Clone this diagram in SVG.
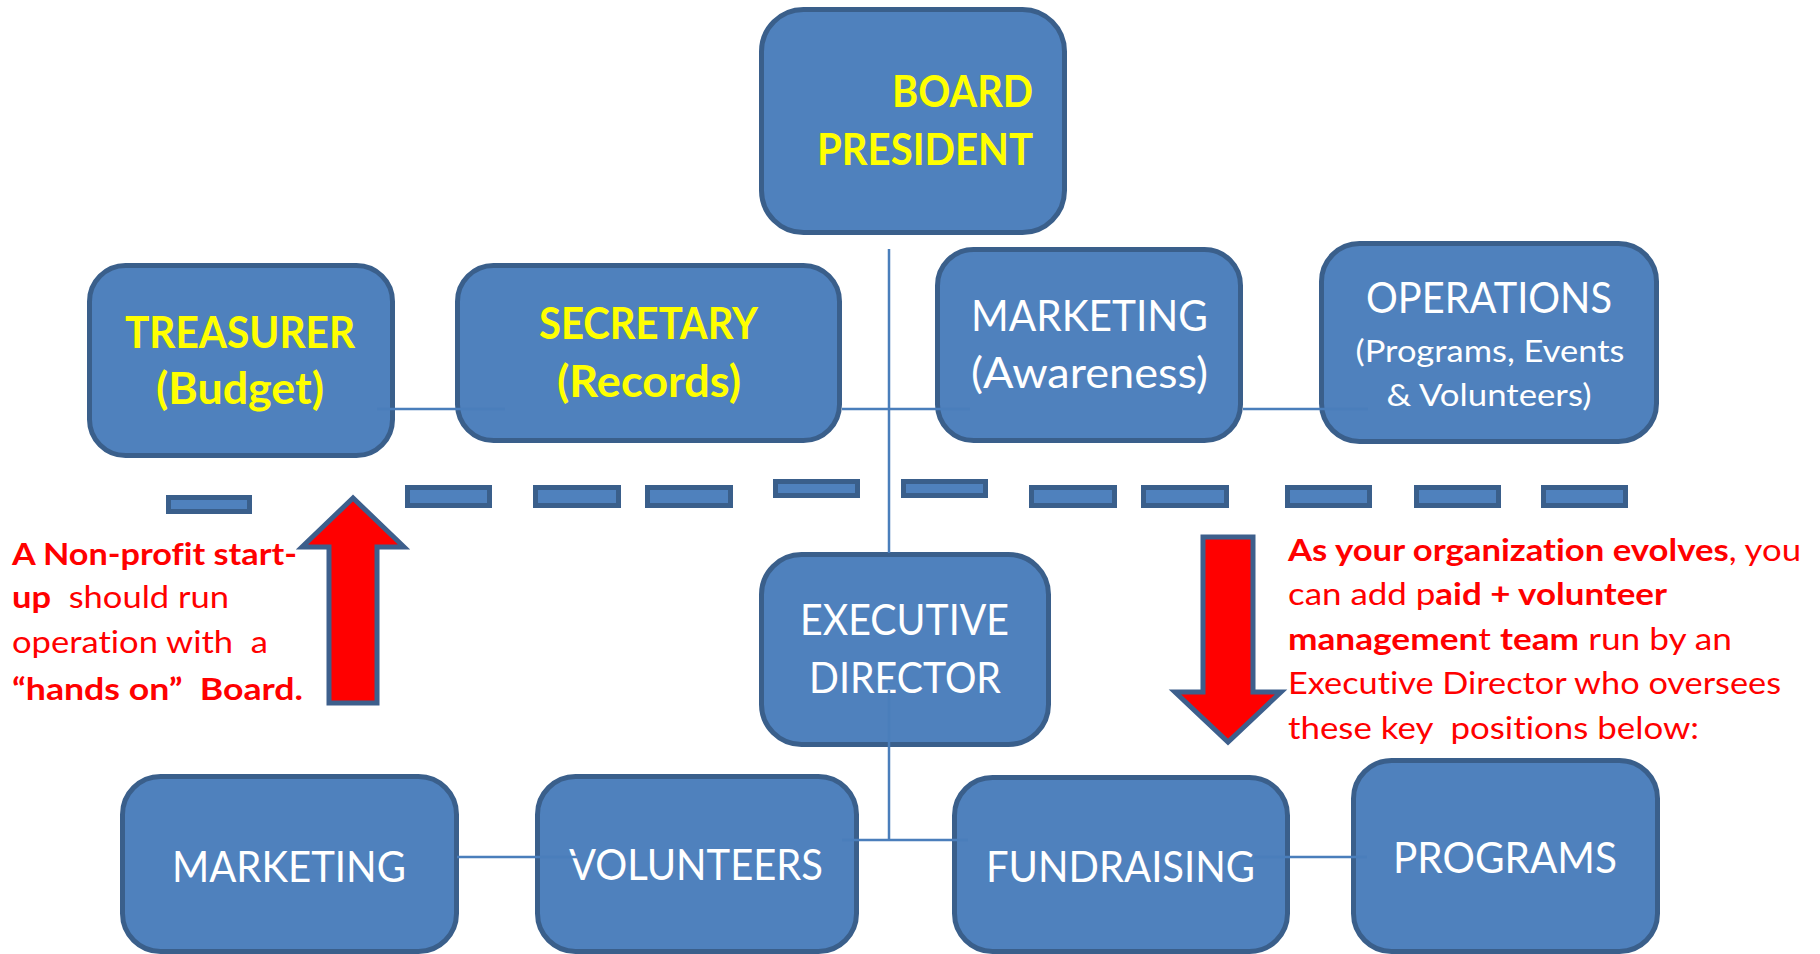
<svg xmlns="http://www.w3.org/2000/svg" width="1820" height="954" viewBox="0 0 1820 954">
<style>
text{font-variant-ligatures:none;font-feature-settings:"liga" 0,"clig" 0}
.box{fill:#4f81bd;stroke:#3a5f8b;stroke-width:5}
.dash{fill:#4f81bd;stroke:#3a5f8b;stroke-width:5}
.arrow{fill:#ff0000;stroke:#3d5f8c;stroke-width:5;stroke-linejoin:miter}
.con{stroke:#4a7ebb;stroke-width:2.5;fill:none}
.y{font-family:Lato,"Liberation Sans",sans-serif;font-weight:bold;fill:#ffff00;font-size:44px}
.w{font-family:Lato,"Liberation Sans",sans-serif;fill:#ffffff;font-size:42px}
.ws{font-family:Lato,"Liberation Sans",sans-serif;fill:#ffffff;font-size:31px}
.r{font-family:Lato,"Liberation Sans",sans-serif;fill:#ff0000;font-size:31px}
.b{font-weight:bold}
</style>
<rect width="1820" height="954" fill="#ffffff"/>

<g id="separator">
<rect class="dash" x="168.5" y="497.5" width="81" height="14"/>
<rect class="dash" x="407.5" y="487.5" width="82" height="18"/>
<rect class="dash" x="535.5" y="487.5" width="83" height="18"/>
<rect class="dash" x="647.5" y="487.5" width="83" height="18"/>
<rect class="dash" x="775.5" y="481.5" width="82" height="14"/>
<rect class="dash" x="903.5" y="481.5" width="82" height="14"/>
<rect class="dash" x="1031.5" y="487.5" width="83" height="18"/>
<rect class="dash" x="1143.5" y="487.5" width="83" height="18"/>
<rect class="dash" x="1287.5" y="487.5" width="82" height="18"/>
<rect class="dash" x="1416.5" y="487.5" width="82" height="18"/>
<rect class="dash" x="1543.5" y="487.5" width="82" height="18"/>
</g>

<g id="board-president">
<rect class="box" x="761.5" y="9.5" width="303" height="223" rx="42"/>
<text class="y" x="1033" y="107" text-anchor="end" font-size="42" textLength="141" lengthAdjust="spacingAndGlyphs">BOARD</text>
<text class="y" x="1033" y="165" text-anchor="end" font-size="42" textLength="216" lengthAdjust="spacingAndGlyphs">PRESIDENT</text>
</g>

<g id="treasurer">
<rect class="box" x="89.5" y="265.5" width="303" height="190" rx="36"/>
<text class="y" x="240" y="348" text-anchor="middle" textLength="230" lengthAdjust="spacingAndGlyphs">TREASURER</text>
<text class="y" x="240" y="404" text-anchor="middle" textLength="168" lengthAdjust="spacingAndGlyphs">(Budget)</text>
</g>

<g id="secretary">
<rect class="box" x="457.5" y="265.5" width="382" height="175" rx="36"/>
<text class="y" x="648.5" y="339" text-anchor="middle" textLength="219" lengthAdjust="spacingAndGlyphs">SECRETARY</text>
<text class="y" x="649" y="397" text-anchor="middle" textLength="184" lengthAdjust="spacingAndGlyphs">(Records)</text>
</g>

<g id="marketing-awareness">
<rect class="box" x="937.5" y="249.5" width="303" height="191" rx="36"/>
<text class="w" x="1089.5" y="331" text-anchor="middle" textLength="237" lengthAdjust="spacingAndGlyphs">MARKETING</text>
<text class="w" x="1089.5" y="388" text-anchor="middle" textLength="237" lengthAdjust="spacingAndGlyphs">(Awareness)</text>
</g>

<g id="operations">
<rect class="box" x="1321.5" y="243.5" width="335" height="198" rx="38"/>
<text class="w" x="1489" y="313" text-anchor="middle" textLength="246" lengthAdjust="spacingAndGlyphs">OPERATIONS</text>
<text class="ws" x="1490" y="362" text-anchor="middle" textLength="269" lengthAdjust="spacingAndGlyphs">(Programs, Events</text>
<text class="ws" x="1489" y="406" text-anchor="middle" textLength="205" lengthAdjust="spacingAndGlyphs">&amp; Volunteers)</text>
</g>

<g id="executive-director">
<rect class="box" x="761.5" y="554.5" width="287" height="190" rx="40"/>
<text class="w" x="904.5" y="635" text-anchor="middle" textLength="209" lengthAdjust="spacingAndGlyphs">EXECUTIVE</text>
<text class="w" x="905" y="693" text-anchor="middle" textLength="192" lengthAdjust="spacingAndGlyphs">DIRECTOR</text>
</g>

<g id="marketing">
<rect class="box" x="122.5" y="776.5" width="334" height="175" rx="38"/>
<text class="w" x="289" y="882" text-anchor="middle" textLength="234" lengthAdjust="spacingAndGlyphs">MARKETING</text>
</g>

<g id="volunteers">
<rect class="box" x="537.5" y="776.5" width="319" height="175" rx="38"/>
<text class="w" x="696" y="880" text-anchor="middle" textLength="254" lengthAdjust="spacingAndGlyphs">VOLUNTEERS</text>
</g>

<g id="fundraising">
<rect class="box" x="954.5" y="777.5" width="333" height="174" rx="38"/>
<text class="w" x="1120.5" y="882" text-anchor="middle" textLength="269" lengthAdjust="spacingAndGlyphs">FUNDRAISING</text>
</g>

<g id="programs">
<rect class="box" x="1353.5" y="760.5" width="304" height="191" rx="38"/>
<text class="w" x="1505" y="873" text-anchor="middle" textLength="224" lengthAdjust="spacingAndGlyphs">PROGRAMS</text>
</g>

<g id="connectors">
<line class="con" x1="889" y1="249" x2="889" y2="553"/>
<line class="con" x1="377" y1="409" x2="505" y2="409"/>
<line class="con" x1="842" y1="409" x2="970" y2="409"/>
<line class="con" x1="1243" y1="409" x2="1368" y2="409"/>
<line class="con" x1="889" y1="690" x2="889" y2="840"/>
<line class="con" x1="842" y1="840" x2="968" y2="840"/>
<line class="con" x1="457" y1="857" x2="577" y2="857"/>
<line class="con" x1="1254" y1="857" x2="1367" y2="857"/>
</g>

<g id="arrows">
<polygon class="arrow" points="353,498 302,547 329,547 329,703 377,703 377,547 404,547"/>
<polygon class="arrow" points="1203,537 1253,537 1253,692 1281,692 1228,742 1175,692 1203,692"/>
</g>

<g id="note-left">
<text class="r b" x="12" y="565" textLength="285" lengthAdjust="spacingAndGlyphs">A Non-profit start-</text>
<text class="r" x="12" y="608" xml:space="preserve" textLength="217" lengthAdjust="spacingAndGlyphs"><tspan class="b">up</tspan>  should run</text>
<text class="r" x="12" y="653" xml:space="preserve" textLength="256" lengthAdjust="spacingAndGlyphs">operation with  a</text>
<text class="r b" x="12" y="700" xml:space="preserve" textLength="291" lengthAdjust="spacingAndGlyphs">“hands on”  Board.</text>
</g>

<g id="note-right">
<text class="r" x="1288" y="561" textLength="513" lengthAdjust="spacingAndGlyphs"><tspan class="b">As your organization evolves</tspan>, you</text>
<text class="r" x="1288" y="605" textLength="379" lengthAdjust="spacingAndGlyphs">can add p<tspan class="b">aid + volunteer</tspan></text>
<text class="r" x="1288" y="650" xml:space="preserve" textLength="444" lengthAdjust="spacingAndGlyphs"><tspan class="b">managemen</tspan>t <tspan class="b">team</tspan> run by an</text>
<text class="r" x="1288" y="694" textLength="493" lengthAdjust="spacingAndGlyphs">Executive Director who oversees</text>
<text class="r" x="1288" y="739" xml:space="preserve" textLength="411" lengthAdjust="spacingAndGlyphs">these key  positions below:</text>
</g>
</svg>
